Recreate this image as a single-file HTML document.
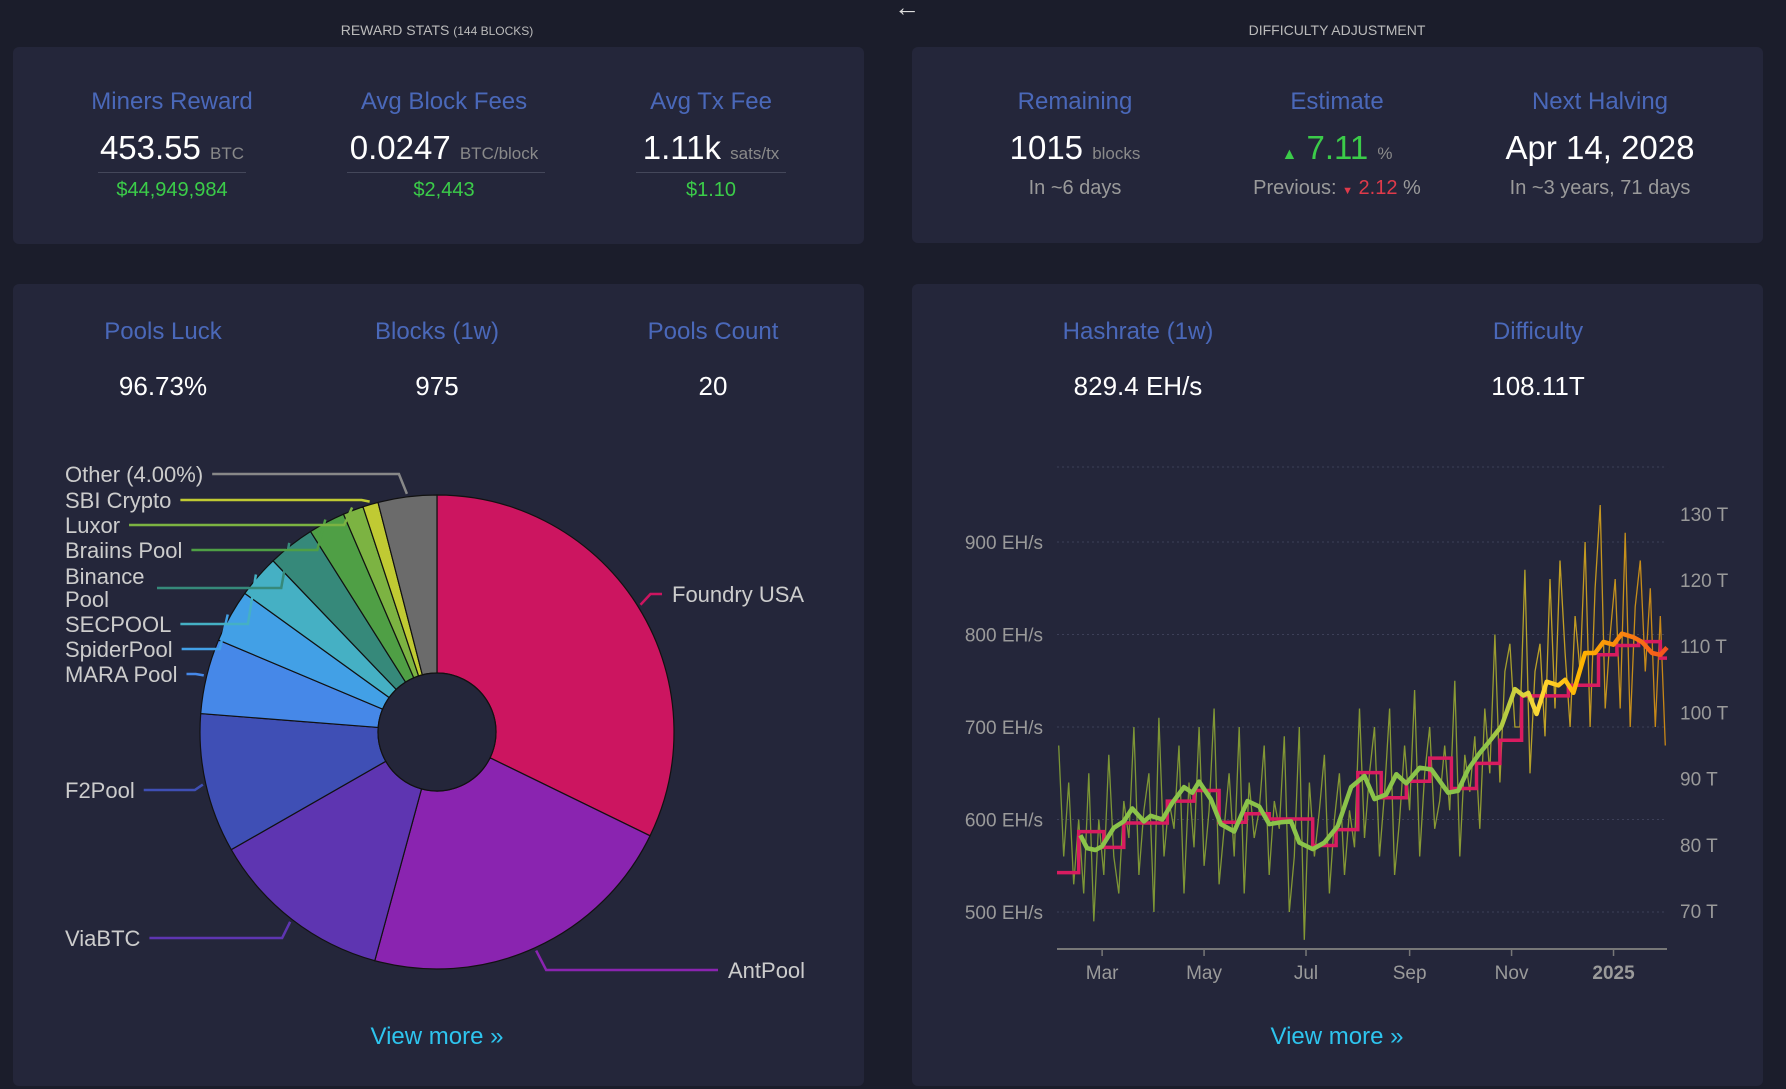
<!DOCTYPE html>
<html><head><meta charset="utf-8">
<style>
*{margin:0;padding:0;box-sizing:border-box}
body{width:1786px;height:1089px;background:#1b1d2b;font-family:"Liberation Sans",sans-serif;position:relative;overflow:hidden}
.card{position:absolute;background:#24263a;border-radius:6px}
.t{position:absolute;text-align:center;white-space:nowrap;transform:translateX(-50%)}
.hdr{color:#bbb;font-size:14px;top:22px}
.lab{color:#4a68b9;font-size:24px}
.val{color:#fff;font-size:33px}
.val small{font-size:17px;color:#8a8a8a}
.usd{color:#3bcc49;font-size:20px}
.sub{color:#9a9a9a;font-size:20px}
.v2{color:#fff;font-size:26px}
.more{color:#2ec4ee;font-size:24px}
.line{position:absolute;height:1px;background:#44475a}
svg{position:absolute;left:0;top:0}
</style></head><body>
<div class="t" style="left:907px;top:-8px;color:#ddd;font-size:26px">←</div>
<div class="t hdr" style="left:437px">REWARD STATS <span style="font-size:12px">(144 BLOCKS)</span></div>
<div class="t hdr" style="left:1337px">DIFFICULTY ADJUSTMENT</div>

<div class="card" style="left:13px;top:47px;width:851px;height:197px"></div>
<div class="card" style="left:912px;top:47px;width:851px;height:196px"></div>
<div class="card" style="left:13px;top:284px;width:851px;height:802px"></div>
<div class="card" style="left:912px;top:284px;width:851px;height:802px"></div>

<div class="t lab" style="left:172px;top:88px">Miners Reward</div>
<div class="t val" style="left:172px;top:129px">453.55 <small>BTC</small></div>
<div class="line" style="left:98px;top:172px;width:148px"></div>
<div class="t usd" style="left:172px;top:179px">$44,949,984</div>
<div class="t lab" style="left:444px;top:88px">Avg Block Fees</div>
<div class="t val" style="left:444px;top:129px">0.0247 <small>BTC/block</small></div>
<div class="line" style="left:347px;top:172px;width:198px"></div>
<div class="t usd" style="left:444px;top:179px">$2,443</div>
<div class="t lab" style="left:711px;top:88px">Avg Tx Fee</div>
<div class="t val" style="left:711px;top:129px">1.11k <small>sats/tx</small></div>
<div class="line" style="left:636px;top:172px;width:150px"></div>
<div class="t usd" style="left:711px;top:179px">$1.10</div>

<div class="t lab" style="left:1075px;top:88px">Remaining</div>
<div class="t val" style="left:1075px;top:129px">1015 <small>blocks</small></div>
<div class="t sub" style="left:1075px;top:177px">In ~6 days</div>
<div class="t lab" style="left:1337px;top:88px">Estimate</div>
<div class="t val" style="left:1337px;top:129px;color:#3bcc49"><span style="font-size:16px">▲</span> 7.11 <small>%</small></div>
<div class="t sub" style="left:1337px;top:177px">Previous: <span style="color:#e03a4a"><span style="font-size:11px">▼</span> 2.12</span> %</div>
<div class="t lab" style="left:1600px;top:88px">Next Halving</div>
<div class="t val" style="left:1600px;top:129px">Apr 14, 2028</div>
<div class="t sub" style="left:1600px;top:177px">In ~3 years, 71 days</div>

<div class="t lab" style="left:163px;top:318px">Pools Luck</div>
<div class="t v2" style="left:163px;top:371px">96.73%</div>
<div class="t lab" style="left:437px;top:318px">Blocks (1w)</div>
<div class="t v2" style="left:437px;top:371px">975</div>
<div class="t lab" style="left:713px;top:318px">Pools Count</div>
<div class="t v2" style="left:713px;top:371px">20</div>
<div class="t lab" style="left:1138px;top:318px">Hashrate (1w)</div>
<div class="t v2" style="left:1138px;top:371px">829.4 EH/s</div>
<div class="t lab" style="left:1538px;top:318px">Difficulty</div>
<div class="t v2" style="left:1538px;top:371px">108.11T</div>

<div class="t more" style="left:437px;top:1023px">View more »</div>
<div class="t more" style="left:1337px;top:1023px">View more »</div>

<svg id="s" width="1786" height="1089"></svg>
<script>
const poolNames=["Foundry USA","AntPool","ViaBTC","F2Pool","MARA Pool","SpiderPool","SECPOOL","Binance Pool","Braiins Pool","Luxor","SBI Crypto","Other (4.00%)"];
const poolShares=[32.2,22.0,12.5,9.5,5.1,3.6,2.9,3.2,2.5,1.4,1.05,4.0];
const poolColors=["#cc1560","#8a24b0","#5e35b1","#3f4fb5","#4688e8","#42a0e6","#45b0c4","#36897a","#4f9f45","#7cb342","#c0ca33","#6b6b6b"];

const xTickLabels=["Mar","May","Jul","Sep","Nov","2025"];
const xTickDays=[26,87,148,210,271,332];
const yLeftTicks=[500,600,700,800,900];
const yRightTicks=[70,80,90,100,110,120,130];
const diffStartDays=[-1,12,27,39,65,81,96,112,126,152,166,179,193,208,222,235,250,264,277,292,305,323,334,347,360];
const diffValues=[75.8,82.0,79.6,83.3,86.6,88.2,83.4,84.7,83.9,79.9,82.3,90.9,87.1,89.6,93.1,88.5,92.3,95.8,102.5,102.5,104.1,108.7,110.1,110.7,108.2];
const maDays=[13,17,22,26,33,39,44,51,55,62,68,75,80,84,91,97,105,113,120,126,133,139,144,152,159,167,175,183,189,196,202,208,216,223,233,239,245,252,258,265,273,278,281,286,292,299,303,308,315,321,326,332,337,344,349,355,360,364];
const maValues=[583,569,567,571,591,598,612,598,604,600,618,635,629,641,622,595,587,620,614,595,597,598,575,568,575,593,635,647,622,627,649,639,656,654,629,631,654,672,685,701,741,734,737,714,749,745,751,737,780,780,792,789,801,797,792,780,778,786];
const noiseValues=[680,560,640,530,600,520,650,490,600,540,670,560,520,620,580,700,540,610,650,500,710,560,620,590,680,520,640,570,700,550,610,720,530,590,650,560,700,520,640,580,610,680,540,620,590,690,500,560,700,470,640,560,610,670,520,600,650,540,610,570,720,580,650,700,560,630,720,540,600,680,610,740,560,650,700,590,620,680,610,750,560,670,630,690,590,720,650,800,640,760,790,700,700,870,650,760,790,690,860,720,880,780,700,820,760,900,700,850,940,720,800,860,720,910,700,830,880,760,850,700,820,680];
const noiseStepDays=3;

const NS="http://www.w3.org/2000/svg";
const svg=document.getElementById('s');
function mk(tag,attrs,parent){const e=document.createElementNS(NS,tag);for(const k in attrs)e.setAttribute(k,attrs[k]);(parent||svg).appendChild(e);return e;}

// ---------- PIE ----------
const cx=437,cy=732,R=237,r0=59;
const total=poolShares.reduce((a,b)=>a+b,0);
function pt(a,rad){return [cx+rad*Math.sin(a),cy-rad*Math.cos(a)];}
const labelPos=[[672,594,'r'],[728,970,'r'],[65,938,'l'],[65,790,'l'],[65,674,'l'],[65,649,'l'],[65,624,'l'],[65,588,'l'],[65,550,'l'],[65,525,'l'],[65,500,'l'],[65,474,'l']];
let acc=0;
const pieG=mk('g',{});


poolShares.forEach((v,i)=>{
  const a0=acc/total*2*Math.PI;acc+=v;const a1=acc/total*2*Math.PI;
  const [x0,y0]=pt(a0,R),[x1,y1]=pt(a1,R),[x2,y2]=pt(a1,r0),[x3,y3]=pt(a0,r0);
  const lg=(a1-a0)>Math.PI?1:0;
  const p=mk('path',{d:`M${x0},${y0}A${R},${R} 0 ${lg} 1 ${x1},${y1}L${x2},${y2}A${r0},${r0} 0 ${lg} 0 ${x3},${y3}Z`,fill:poolColors[i],stroke:'#111',"stroke-width":1.2},pieG);
  
  
  const am=(a0+a1)/2;const [ax,ay]=pt(am,R+3);
  const [lx,ly,side]=labelPos[i];
  const txt=poolNames[i];
  if(txt==="Binance Pool"){
    const t=mk('text',{x:lx,y:ly-4,fill:'#ccc','font-size':22});t.textContent="Binance";
    
    const t2=mk('text',{x:lx,y:ly+19,fill:'#ccc','font-size':22});t2.textContent="Pool";
    
    const ex=lx+92;
    const l=mk('polyline',{points:`${ex},${ly} ${ax-8},${ly} ${ax},${ay}`,fill:'none',stroke:poolColors[i],'stroke-width':2.5});
    
    return;
  }
  const t=mk('text',{x:lx,y:ly+8,fill:'#ccc','font-size':22});t.textContent=txt;
  
  
  const w=t.getComputedTextLength();
  let pts;
  if(side==='l'){const ex=lx+w+9;pts=`${ex},${ly} ${Math.max(ex,ax-8)},${ly} ${ax},${ay}`;}
  else{pts=`${ax},${ay} ${Math.min(lx-12,ax+10)},${ly} ${lx-10},${ly}`;}
  const l=mk('polyline',{points:pts,fill:'none',stroke:side==='l'&&i===11?'#888':poolColors[i],'stroke-width':2.5});
  
  
});
mk('circle',{cx:cx,cy:cy,r:r0,fill:'#24263a',stroke:'#111','stroke-width':1.2});

// ---------- HASHRATE CHART ----------
const X0=1057,X1=1667,D0=-1,D1=364;
const xs=d=>X0+(d-D0)/(D1-D0)*(X1-X0);
const yL=v=>912-(v-500)*0.925;
const yR=v=>911-(v-70)*6.62;
const defs=mk('defs',{});
const g1=mk('linearGradient',{id:'gma',gradientUnits:'userSpaceOnUse',x1:X0,x2:X1,y1:0,y2:0},defs);
[[0,'#8bc34a'],[0.7,'#8bc34a'],[0.79,'#fdd835'],[0.86,'#ffb300'],[1,'#f4511e']].forEach(([o,c])=>mk('stop',{offset:o,'stop-color':c},g1));
const g2=mk('linearGradient',{id:'gn',gradientUnits:'userSpaceOnUse',x1:X0,x2:X1,y1:0,y2:0},defs);
[[0,'#7f9b36'],[0.68,'#8fa033'],[0.8,'#c9a925'],[1,'#d08a14']].forEach(([o,c])=>mk('stop',{offset:o,'stop-color':c},g2));
const chart=mk('g',{});


mk('line',{x1:X0,x2:X1,y1:467,y2:467,stroke:'#3d4058','stroke-dasharray':'2,3'},chart);
yLeftTicks.forEach(v=>{
  mk('line',{x1:X0,x2:X1,y1:yL(v),y2:yL(v),stroke:'#3d4058','stroke-dasharray':'2,3'},chart);
  const t=mk('text',{x:1043,y:yL(v)+7,fill:'#9a9a9a','font-size':19,'text-anchor':'end'},chart);t.textContent=v+' EH/s';
  
});
yRightTicks.forEach(v=>{
  const t=mk('text',{x:1680,y:yR(v)+7,fill:'#9a9a9a','font-size':19},chart);t.textContent=v+' T';
  
});
const np=noiseValues.map((v,i)=>`${xs(i*noiseStepDays).toFixed(1)},${yL(v).toFixed(1)}`).join(' ');
const nl=mk('polyline',{points:np,fill:'none',stroke:'url(#gn)','stroke-width':1.3,opacity:0.95},chart);

let dp=[];
diffValues.forEach((v,i)=>{const s=diffStartDays[i],e=i+1<diffStartDays.length?diffStartDays[i+1]:D1;dp.push(`${xs(s).toFixed(1)},${yR(v).toFixed(1)}`,`${xs(e).toFixed(1)},${yR(v).toFixed(1)}`);});
const dl=mk('polyline',{points:dp.join(' '),fill:'none',stroke:'#d81b60','stroke-width':3.5},chart);

const mp=maValues.map((v,i)=>`${xs(maDays[i]).toFixed(1)},${yL(v).toFixed(1)}`).join(' ');
const ml=mk('polyline',{points:mp,fill:'none',stroke:'url(#gma)','stroke-width':4.5,'stroke-linejoin':'round'},chart);

mk('line',{x1:X0,x2:X1,y1:949,y2:949,stroke:'#777','stroke-width':2},chart);
xTickLabels.forEach((lab,i)=>{
  const x=xs(xTickDays[i]);
  mk('line',{x1:x,x2:x,y1:949,y2:956,stroke:'#777','stroke-width':1.5},chart);
  const t=mk('text',{x:x,y:979,fill:'#9a9a9a','font-size':19,'text-anchor':'middle','font-weight':lab==='2025'?'bold':'normal'},chart);t.textContent=lab;
  
});
</script>
</body></html>
